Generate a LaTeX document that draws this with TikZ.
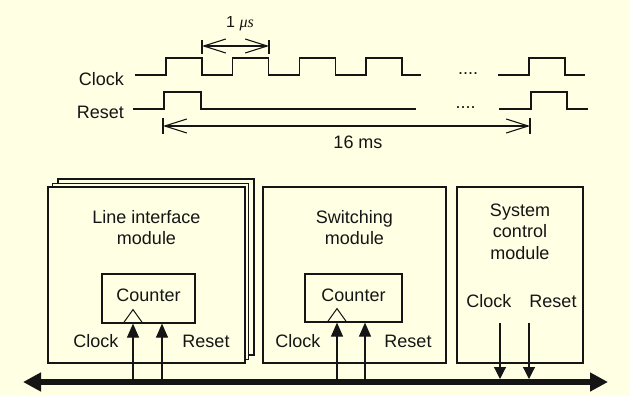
\documentclass[tikz,border=0pt]{standalone}
\usepackage{fontspec}
\setmainfont{Liberation Sans}
\newfontfamily\serifit{Liberation Serif}
\usepackage{tikz}
\usetikzlibrary{arrows.meta,positioning}
\definecolor{paper}{HTML}{FFFFE3}
\definecolor{ink}{HTML}{151515}
\tikzset{
  wave/.style={draw=ink, line width=1.3pt},
  box/.style={draw=ink, line width=1.2pt, fill=paper, rectangle, inner sep=0pt},
  lab/.style={text=ink, inner sep=0pt, font=\fontsize{18}{21}\selectfont},
  labs/.style={text=ink, inner sep=0pt, font=\fontsize{16}{19}\selectfont},
  span/.style={draw=ink, line width=1.1pt,
    {Straight Barb[length=22pt,width=14pt]}-{Straight Barb[length=22pt,width=14pt]}},
  tick/.style={draw=ink, line width=1.1pt},
  bus/.style={draw=ink, line width=6pt,
    {Triangle[length=18pt,width=18pt]}-{Triangle[length=18pt,width=18pt]}},
  sigin/.style={draw=ink, line width=1.2pt, -{Triangle[length=14pt,width=12pt]}},
  sigout/.style={draw=ink, line width=1.2pt, -{Triangle[length=12pt,width=12pt]}},
  edge/.style={draw=ink, line width=1pt},
}

\begin{document}
\begin{tikzpicture}[x=1pt,y=-1pt]
  \fill[paper] (0,0) rectangle (630,396);
  \useasboundingbox (0,0) rectangle (630,396);

  % timing
  \node[lab, anchor=base east] (clkT) at (124,85) {Clock};
  \node[lab, anchor=base east] (rstT) at (124,119) {Reset};
  \draw[wave] (135,75) foreach \x in {166,232.7,299.3,366} {
      -- (\x,75) -- (\x,58) -- (\x+36,58) -- (\x+36,75) } -- (421,75);
  \draw[wave] (498,75) -- (529,75) -- (529,58) -- (565,58) -- (565,75) -- (585,75);
  \draw[wave] (133,109) -- (164,109) -- (164,92) -- (201,92) -- (201,109) -- (416,109);
  \draw[wave] (499,109) -- (531,109) -- (531,92) -- (567,92) -- (567,109) -- (588,109);
  \node[lab, anchor=base] (clkDots) at (468,74.5) {....};
  \node[lab, anchor=base] (rstDots) at (465.5,109) {....};

  \coordinate (usA) at (202,46);
  \coordinate (usB) at (269,46);
  \draw[tick] (202,40) -- (202,54);
  \draw[tick] (269,40) -- (269,54);
  \draw[span] (usA) -- (usB);
  \node[labs, anchor=base] (usL) at (240,28) {1 {\serifit\itshape μs}};

  \coordinate (msA) at (163,126);
  \coordinate (msB) at (530,126);
  \draw[tick] (163,118) -- (163,134);
  \draw[tick] (530,118) -- (530,134);
  \draw[span] (msA) -- (msB);
  \node[lab, anchor=base] (msL) at (358,148) {16 ms};

  % modules
  \node[box, minimum width=196pt, minimum height=176pt] (liback2) at (156,267) {};
  \node[box, minimum width=196pt, minimum height=176pt] (liback1) at (150.5,271.5) {};
  \node[box, minimum width=197pt, minimum height=176pt] (li) at (146.5,275) {};
  \node[box, minimum width=183pt, minimum height=176pt] (sw) at (354.5,275) {};
  \node[box, minimum width=126pt, minimum height=176pt] (sys) at (520,275) {};

  \node[lab, anchor=base] (liT1) at ([yshift=-37pt]li.north) {Line interface};
  \node[lab, anchor=base] (liT2) at ([yshift=-21pt]liT1.base) {module};
  \node[lab, anchor=base] (swT1) at ([yshift=-37pt]sw.north) {Switching};
  \node[lab, anchor=base] (swT2) at ([yshift=-21pt]swT1.base) {module};
  \node[lab, anchor=base] (sysT1) at ([yshift=-30pt]sys.north) {System};
  \node[lab, anchor=base] (sysT2) at ([yshift=-21.5pt]sysT1.base) {control};
  \node[lab, anchor=base] (sysT3) at ([yshift=-21.5pt]sysT2.base) {module};

  % counters
  \node[box, minimum width=93pt, minimum height=49pt] (ctrA) at (148.5,298.5) {};
  \node[box, minimum width=97pt, minimum height=48pt] (ctrB) at (353.5,298) {};
  \node[lab, anchor=base] at ([yshift=-28pt]ctrA.north) {Counter};
  \node[lab, anchor=base] at ([yshift=-28pt]ctrB.north) {Counter};

  % bus taps
  \coordinate (clkA) at (133,382);
  \coordinate (rstA) at (162,382);
  \coordinate (clkB) at (337,382);
  \coordinate (rstB) at (365,382);
  \coordinate (clkC) at (500,382);
  \coordinate (rstC) at (529,382);

  \draw[edge] (clkA |- ctrA.south) ++(-10,0) -- ++(10,-14) -- ++(10,14);
  \draw[edge] (clkB |- ctrB.south) ++(-10,0) -- ++(10,-14) -- ++(10,14);
  \draw[sigin] (clkA) -- (clkA |- ctrA.south);
  \draw[sigin] (rstA) -- (rstA |- ctrA.south);
  \draw[sigin] (clkB) -- (clkB |- ctrB.south);
  \draw[sigin] (rstB) -- (rstB |- ctrB.south);
  \draw[sigout] (clkC |- 0,323) -- ([yshift=3pt]clkC);
  \draw[sigout] (rstC |- 0,323) -- ([yshift=3pt]rstC);

  \node[lab, anchor=base] at (96,347) {Clock};
  \node[lab, anchor=base] at (206,347) {Reset};
  \node[lab, anchor=base] at (298,347) {Clock};
  \node[lab, anchor=base] at (408,347) {Reset};
  \node[lab, anchor=base] at (489,307) {Clock};
  \node[lab, anchor=base] at (553,307) {Reset};

  \coordinate (busL) at (23,382);
  \coordinate (busR) at (608,382);
  \draw[bus] (busL) -- (busR);
\end{tikzpicture}
\end{document}
